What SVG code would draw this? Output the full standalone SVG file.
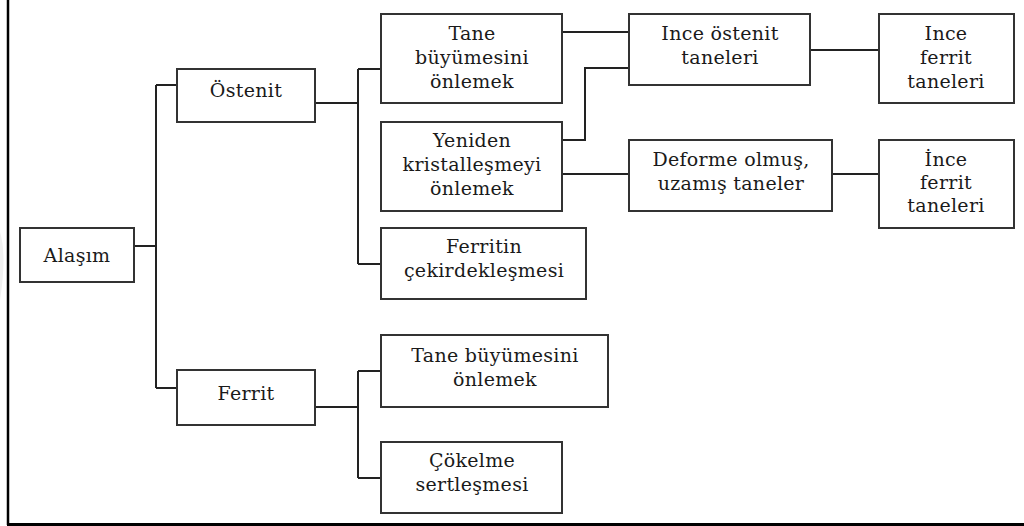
<svg xmlns="http://www.w3.org/2000/svg" width="1024" height="526" viewBox="0 0 1024 526">
<style>
.box{fill:#fff;stroke:#333;stroke-width:2}
.c{fill:none;stroke:#222;stroke-width:2}
.t text{font-family:'DejaVu Serif','Liberation Serif',serif;font-size:19px;fill:#1a1a1a;text-anchor:middle;letter-spacing:0.3px}
</style>
<rect width="1024" height="526" fill="#fff"/>
<path d="M0 232 Q7 255 0 300 Z" fill="#f0f0f0"/>
<g id="frame"><line x1="8" y1="0" x2="8" y2="525" stroke="#000" stroke-width="2.5"/><line x1="7" y1="524.5" x2="1024" y2="524.5" stroke="#000" stroke-width="3"/></g>
<g id="connectors">
<path class="c" d="M134 246H156M156 85V388M156 85H177M156 388H177"/>
<path class="c" d="M315 103H358M358 69V264M358 69H381M358 264H381"/>
<path class="c" d="M315 407H358M358 371V478M358 371H381M358 478H381"/>
<path class="c" d="M562 32H629M562 140H585V68H629M562 174H629"/>
<path class="c" d="M810 50H879M832 174H879"/>
</g>
<g class="t">
<g id="alasim"><rect class="box" x="20" y="228" width="114" height="54"/><text x="77" y="262">Alaşım</text></g>
<g id="ostenit"><rect class="box" x="177" y="69" width="138" height="53"/><text x="246" y="97">Östenit</text></g>
<g id="ferrit"><rect class="box" x="177" y="370" width="138" height="55"/><text x="246" y="400">Ferrit</text></g>
<g id="tane1"><rect class="box" x="381" y="14" width="181" height="89"/><text x="472" y="40">Tane</text><text x="472" y="64">büyümesini</text><text x="472" y="88">önlemek</text></g>
<g id="yeniden"><rect class="box" x="381" y="122" width="181" height="89"/><text x="472" y="147">Yeniden</text><text x="472" y="171">kristalleşmeyi</text><text x="472" y="195">önlemek</text></g>
<g id="ferritin"><rect class="box" x="381" y="228" width="205" height="71"/><text x="484" y="253">Ferritin</text><text x="484" y="277">çekirdekleşmesi</text></g>
<g id="tane2"><rect class="box" x="381" y="335" width="227" height="72"/><text x="495" y="362">Tane büyümesini</text><text x="495" y="386">önlemek</text></g>
<g id="cokelme"><rect class="box" x="381" y="442" width="181" height="71"/><text x="472" y="467">Çökelme</text><text x="472" y="491">sertleşmesi</text></g>
<g id="inceostenit"><rect class="box" x="629" y="14" width="181" height="71"/><text x="720" y="40">Ince östenit</text><text x="720" y="64">taneleri</text></g>
<g id="deforme"><rect class="box" x="629" y="140" width="203" height="71"/><text x="731" y="166">Deforme olmuş,</text><text x="731" y="190">uzamış taneler</text></g>
<g id="inceferrit1"><rect class="box" x="879" y="14" width="135" height="89"/><text x="946" y="40">Ince</text><text x="946" y="64">ferrit</text><text x="946" y="88">taneleri</text></g>
<g id="inceferrit2"><rect class="box" x="879" y="140" width="135" height="88"/><text x="946" y="166">İnce</text><text x="946" y="189">ferrit</text><text x="946" y="212">taneleri</text></g>
</g>
</svg>
